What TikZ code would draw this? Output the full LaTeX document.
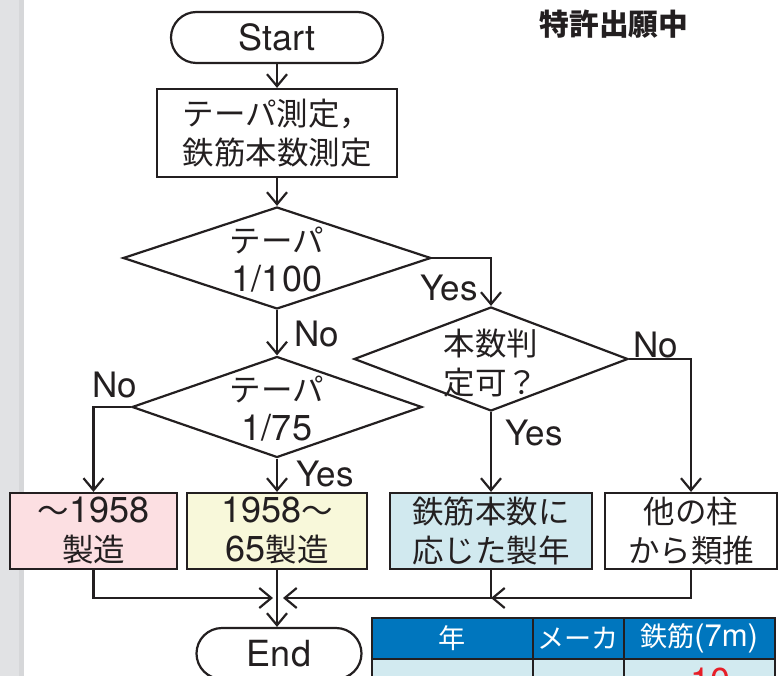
\documentclass[tikz,border=0pt]{standalone}
\usepackage{fontspec}
\setmainfont{TeX Gyre Heros}
\newfontfamily\jp[Scale=0.875]{Noto Sans CJK JP}
\usetikzlibrary{shapes.geometric,arrows.meta}
\definecolor{ink}{RGB}{35,31,32}
\definecolor{strip}{RGB}{225,226,228}
\definecolor{stripdark}{RGB}{214,215,217}
\definecolor{pinkbox}{RGB}{252,223,226}
\definecolor{yellowbox}{RGB}{248,248,218}
\definecolor{bluebox}{RGB}{209,233,239}
\definecolor{headblue}{RGB}{0,118,190}
\definecolor{rowblue}{RGB}{210,234,240}
\definecolor{numred}{RGB}{230,30,40}
\begin{document}
\begin{tikzpicture}[x=1pt,y=-1pt,
    every node/.style={font=\fontsize{36}{39}\selectfont, text=ink},
    jtext/.style={font=\fontsize{36}{39}\selectfont\jp},
    term/.style={draw=ink, line width=2.2pt, rounded corners=25.5pt, minimum height=51pt, inner sep=0pt},
    proc/.style={draw=ink, line width=2.2pt, minimum height=76pt, inner sep=0pt, align=center},
    dec/.style={draw=ink, line width=2.2pt, diamond, inner sep=0pt},
    arr/.style={draw=ink, line width=2.2pt, -{Straight Barb[length=12pt,width=20pt]}},
    yn/.style={font=\fontsize{35}{35}\selectfont},
    tab/.style={font=\fontsize{31}{31}\selectfont, text=white}]
             \useasboundingbox (0,0) rectangle (781,676);
             \fill[strip] (0,0) rectangle (24,676);
             \fill[stripdark] (19,0) rectangle (24,676);
             % flow
             \node[term, minimum width=212pt] (start) at (277,37.5) {Start};
             \node[proc, jtext, minimum width=240pt, minimum height=88pt] (meas) at (277,133) {テーパ測定，\\鉄筋本数測定};
             \node[dec, minimum width=308pt, minimum height=102pt] (d1) at (277,258) {};
             \node[align=center] (d1t) at (277,260) {{\jp テーパ}\\1/100};
             \node[dec, minimum width=290pt, minimum height=101pt] (d2) at (277,407) {};
             \node[align=center] (d2t) at (277,409) {{\jp テーパ}\\1/75};
             \node[dec, minimum width=274pt, minimum height=104pt] (d3) at (491,359) {};
             \node[jtext, align=center] (d3t) at (491,363) {本数判\\定可？};
             \node[proc, fill=pinkbox, minimum width=167pt] (b1) at (93.5,531) {{\jp ～}1958\\{\jp 製造}};
             \node[proc, fill=yellowbox, minimum width=180pt] (b2) at (277,531) {1958{\jp ～}\\65{\jp 製造}};
             \node[proc, jtext, fill=bluebox, minimum width=202pt] (b3) at (491,531) {鉄筋本数に\\応じた製年};
             \node[proc, jtext, minimum width=172pt] (b4) at (691,531) {他の柱\\から類推};
             \node[term, minimum width=165pt] (end) at (279,653.5) {End};
             \node[font=\fontsize{34}{34}\selectfont\bfseries\jp] (patent) at (614,24) {特許出願中};
             % labels
             \node[yn] (y1) at (449,288) {Yes};
             \node[yn] (n1) at (317,334) {No};
             \node[yn] (n2) at (115,385) {No};
             \node[yn] (y2) at (325,474) {Yes};
             \node[yn] (n3) at (656,345) {No};
             \node[yn] (y3) at (534,433) {Yes};
             % connectors
             \draw[arr] (start) -- (meas);
             \draw[arr] (meas) -- (d1);
             \draw[arr] (d1) -- (d2);
             \draw[arr] (d1.east) -| (d3.north);
             \draw[arr] (d2.west) -| (b1.north);
             \draw[arr] (d2) -- (b2);
             \draw[arr] (d3) -- (b3);
             \draw[arr] (d3.east) -| (b4.north);
             \coordinate (mL) at (273,598);
             \coordinate (mR) at (283,598);
             \draw[arr] (b1.south) |- (mL);
             \draw[arr] (b3.south) |- (mR);
             \draw[arr] (b4.south) |- (b3.south |- mR);
             \draw[arr] (b2.south) -- (b2.south |- end.north);
             % table
             \fill[headblue] (372,618) rectangle (775,659);
             \fill[rowblue] (372,659) rectangle (775,700);
             \draw[ink, line width=2.2pt] (372,700) -- (372,618) -- (775,618) -- (775,700);
             \draw[ink, line width=2.2pt] (372,659) -- (775,659);
             \foreach \cx in {533,624}
               \draw[ink, line width=2.2pt] (\cx,618) -- (\cx,700);
             \node[tab] (tyear) at (452,638) {\jp 年};
             \node[tab] (tmaker) at (578,638) {\jp メーカ};
             \node[tab] (tbar) at (699,638) {{\jp 鉄筋}(7m)};
             \node[anchor=north west, inner sep=0pt, text=numred] (tnum) at (690,668) {10};
            \end{tikzpicture}
\end{document}
